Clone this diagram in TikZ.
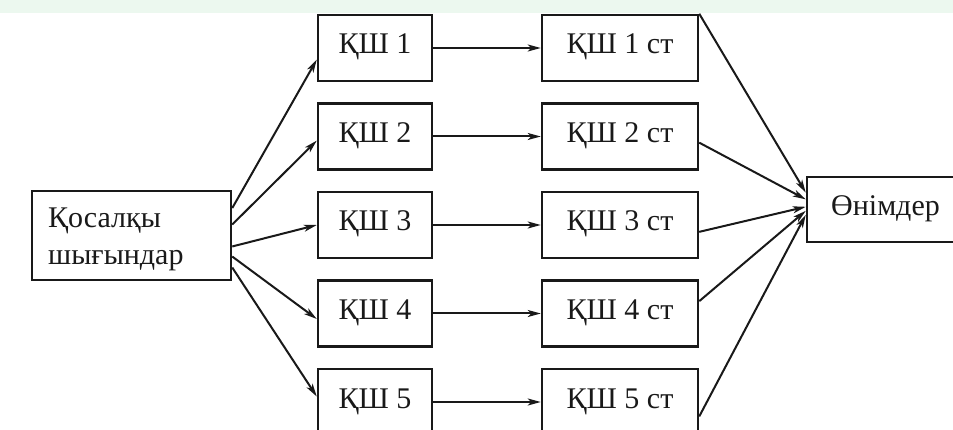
\documentclass[tikz,border=0pt]{standalone}
\usepackage{fontspec}
\setmainfont{Liberation Serif}
\usetikzlibrary{calc,arrows.meta}
\definecolor{band}{RGB}{236,248,239}
\definecolor{ink}{RGB}{25,25,25}
\begin{document}
\begin{tikzpicture}[x=1pt,y=-1pt,
  box/.style={draw=ink, line width=2.5pt, minimum width=114pt, minimum height=66pt,
    inner sep=0pt, text height=22pt, text depth=10pt, text=ink,
    font=\fontsize{30}{33}\selectfont},
  stbox/.style={box, minimum width=156pt},
  conn/.style={draw=ink, line width=2pt,
    -{Stealth[length=13pt,width=7pt,inset=3.5pt]}}]
\useasboundingbox (0,0) rectangle (953,430);
\fill[band] (0,0) rectangle (953,13);
% source box
\node[box, minimum width=199pt, minimum height=89pt] (src) at (131.5,235.5) {};
\node[anchor=base west, align=left, inner sep=0pt, text=ink,
  font=\fontsize{30}{37}\selectfont] (srctext) at (48,265) {Қосалқы\\шығындар};
% first column
\node[box] (k1) at (375,48) {ҚШ 1};
\node[box] (k2) at (375,136.5) {ҚШ 2};
\node[box] (k3) at (375,225) {ҚШ 3};
\node[box] (k4) at (375,313.5) {ҚШ 4};
\node[box] (k5) at (375,402) {ҚШ 5};
% second column
\node[stbox] (s1) at (620,48) {ҚШ 1 ст};
\node[stbox] (s2) at (620,136.5) {ҚШ 2 ст};
\node[stbox] (s3) at (620,225) {ҚШ 3 ст};
\node[stbox] (s4) at (620,313.5) {ҚШ 4 ст};
\node[stbox] (s5) at (620,402) {ҚШ 5 ст};
% output
\node[box, minimum width=157pt, minimum height=65pt] (out) at (885.5,209.5) {Өнімдер};
% fan-out
\draw[conn] ($(src.north east)!0.20!(src.south east)$) -- ($(k1.north west)!0.67!(k1.south west)$);
\draw[conn] ($(src.north east)!0.38!(src.south east)$) -- ($(k2.north west)!0.56!(k2.south west)$);
\draw[conn] ($(src.north east)!0.62!(src.south east)$) -- ($(k3.north west)!0.50!(k3.south west)$);
\draw[conn] ($(src.north east)!0.73!(src.south east)$) -- ($(k4.north west)!0.58!(k4.south west)$);
\draw[conn] ($(src.north east)!0.85!(src.south east)$) -- ($(k5.north west)!0.42!(k5.south west)$);
% straight
\draw[conn] (k1) -- (s1);
\draw[conn] (k2) -- (s2);
\draw[conn] (k3) -- (s3);
\draw[conn] (k4) -- (s4);
\draw[conn] (k5) -- (s5);
% fan-in
\draw[conn] (s1.north east) -- ($(out.north west)!0.25!(out.south west)$);
\draw[conn] ($(s2.north east)!0.59!(s2.south east)$) -- ($(out.north west)!0.35!(out.south west)$);
\draw[conn] ($(s3.north east)!0.60!(s3.south east)$) -- ($(out.north west)!0.46!(out.south west)$);
\draw[conn] ($(s4.north east)!0.32!(s4.south east)$) -- ($(out.north west)!0.52!(out.south west)$);
\draw[conn] ($(s5.north east)!0.71!(s5.south east)$) -- ($(out.north west)!0.58!(out.south west)$);
\end{tikzpicture}
\end{document}
